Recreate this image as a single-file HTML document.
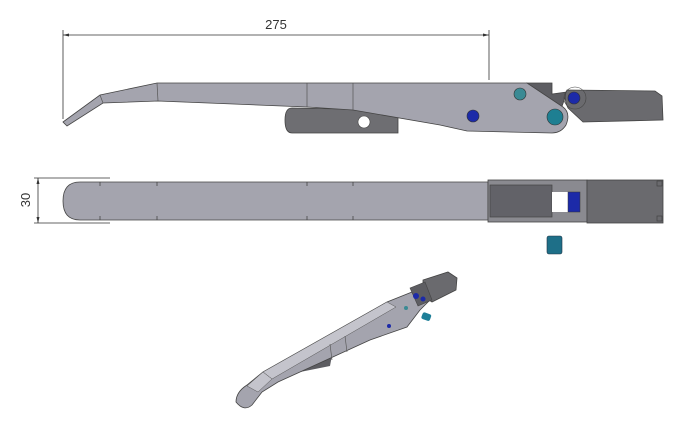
<!DOCTYPE html>
<html><head><meta charset="utf-8"><style>
html,body{margin:0;padding:0;background:#fff;}
svg{display:block;}
text{font-family:"Liberation Sans",sans-serif;}
</style></head><body>
<svg width="700" height="440" viewBox="0 0 700 440" xmlns="http://www.w3.org/2000/svg">
<!-- top view dimension -->
<line x1="63" y1="35" x2="489" y2="35" stroke="#333" stroke-width="0.8"/>
<line x1="63" y1="30" x2="63" y2="119" stroke="#333" stroke-width="0.8"/>
<line x1="489" y1="30" x2="489" y2="80" stroke="#333" stroke-width="0.8"/>
<polygon points="63,35 69,33.5 69,36.5" fill="#333"/>
<polygon points="489,35 483,33.5 483,36.5" fill="#333"/>
<text x="276" y="29" font-size="13" fill="#333" text-anchor="middle">275</text>

<!-- clevis plate -->
<path d="M292,108 L398,110 L398,133 L292,133 Q285,133 285,120 Q285,108 292,108 Z" fill="#6e6e72" stroke="#444" stroke-width="0.8"/>
<circle cx="364" cy="122" r="6" fill="#fff" stroke="#444" stroke-width="0.6"/>
<!-- dark plate behind pivot -->
<polygon points="527,83 552,83 552,94 567,92 560,112" fill="#5d5d62" stroke="#444" stroke-width="0.8"/>
<!-- head -->
<path d="M567,90 L655,91 L662,96 L663,120 L583,122 L568,108 Q563,98 567,90 Z" fill="#6a6a6e" stroke="#444" stroke-width="0.8"/>
<!-- arm -->
<path d="M63,122 L100,95 L157,83 L527,83 L563,107 Q571,113 566,125 Q561,133 552,133 L467,131 L440,125 L353,110 L307,107 L158,101 L103,103 L67,126 Z" fill="#a4a4ae" stroke="#444" stroke-width="0.8"/>
<line x1="307" y1="83" x2="307" y2="107" stroke="#555" stroke-width="0.7"/>
<line x1="353" y1="83" x2="353" y2="110" stroke="#555" stroke-width="0.7"/>
<line x1="157" y1="83" x2="158" y2="101" stroke="#555" stroke-width="0.7"/>
<line x1="100" y1="95" x2="103" y2="103" stroke="#555" stroke-width="0.7"/>
<circle cx="520" cy="94" r="6" fill="#3a8a94" stroke="#333" stroke-width="0.6"/>
<circle cx="473" cy="116" r="6" fill="#1c2aa8" stroke="#333" stroke-width="0.6"/>
<circle cx="555" cy="117" r="8" fill="#1e7f92" stroke="#333" stroke-width="0.6"/>
<circle cx="575" cy="98" r="11" fill="none" stroke="#444" stroke-width="0.6"/>
<circle cx="574" cy="98" r="6" fill="#1c2aa8" stroke="#333" stroke-width="0.6"/>

<!-- middle view dimension -->
<line x1="38" y1="178" x2="38" y2="223" stroke="#333" stroke-width="0.8"/>
<line x1="34" y1="178" x2="110" y2="178" stroke="#333" stroke-width="0.8"/>
<line x1="34" y1="223" x2="110" y2="223" stroke="#333" stroke-width="0.8"/>
<polygon points="38,178 36.5,184 39.5,184" fill="#333"/>
<polygon points="38,223 36.5,217 39.5,217" fill="#333"/>
<text x="0" y="0" font-size="13" fill="#333" text-anchor="middle" transform="translate(30,200) rotate(-90)">30</text>
<!-- middle arm -->
<path d="M80,182 L488,182 L488,220 L80,220 Q63,220 63,201 Q63,182 80,182 Z" fill="#a4a4ae" stroke="#444" stroke-width="0.8"/>
<g stroke="#444" stroke-width="0.8">
<line x1="100" y1="182" x2="100" y2="186"/><line x1="100" y1="216" x2="100" y2="220"/>
<line x1="157" y1="182" x2="157" y2="186"/><line x1="157" y1="216" x2="157" y2="220"/>
<line x1="307" y1="182" x2="307" y2="186"/><line x1="307" y1="216" x2="307" y2="220"/>
<line x1="353" y1="182" x2="353" y2="186"/><line x1="353" y1="216" x2="353" y2="220"/>
</g>
<rect x="488" y="180" width="99" height="42" fill="#8a8a90" stroke="#444" stroke-width="0.8"/>
<rect x="490" y="185" width="62" height="32" fill="#626268" stroke="#444" stroke-width="0.7"/>
<rect x="552" y="192" width="16" height="20" fill="#fff"/>
<rect x="568" y="192" width="12" height="20" fill="#1c2aa8" stroke="#333" stroke-width="0.5"/>
<rect x="587" y="180" width="76" height="43" fill="#6a6a6e" stroke="#444" stroke-width="0.8"/>
<rect x="657" y="181" width="5" height="5" fill="none" stroke="#444" stroke-width="0.7"/>
<rect x="657" y="216" width="5" height="5" fill="none" stroke="#444" stroke-width="0.7"/>
<rect x="547" y="236" width="15" height="18" rx="2" fill="#1e6f88" stroke="#234" stroke-width="0.6"/>

<!-- iso view -->
<polygon points="300,372 330,366 333,350 300,360" fill="#5d5d62"/>
<path d="M236,402 Q236,392 247,385 L263,372 L387,302 L412,292 L420,289 L432,298 L420,310 L407,327 L370,340 L300,372 L278,382 L262,392 L252,405 Q244,412 236,402 Z" fill="#a4a4ae" stroke="#444" stroke-width="0.8"/>
<polygon points="263,372 387,302 396,307 272,379" fill="#c4c4cc" stroke="#555" stroke-width="0.5"/>
<polygon points="247,386 263,372 272,379 258,392" fill="#c4c4cc" stroke="#555" stroke-width="0.5"/>
<line x1="330" y1="344" x2="332" y2="360" stroke="#555" stroke-width="0.6"/>
<line x1="345" y1="336" x2="347" y2="352" stroke="#555" stroke-width="0.6"/>
<polygon points="423,280 448,272 457,278 456,290 432,302 423,296" fill="#6a6a6e" stroke="#444" stroke-width="0.8"/>
<polygon points="410,288 425,282 432,300 418,306" fill="#5d5d62" stroke="#444" stroke-width="0.6"/>
<circle cx="416" cy="296" r="3" fill="#1c2aa8"/>
<circle cx="423" cy="299" r="2.5" fill="#1c2aa8"/>
<circle cx="406" cy="308" r="2" fill="#3a8a94"/>
<circle cx="389" cy="326" r="2" fill="#1c2aa8"/>
<rect x="422" y="313" width="9" height="7" rx="2" fill="#1e7f98" transform="rotate(20 426 316)"/>
</svg>
</body></html>
